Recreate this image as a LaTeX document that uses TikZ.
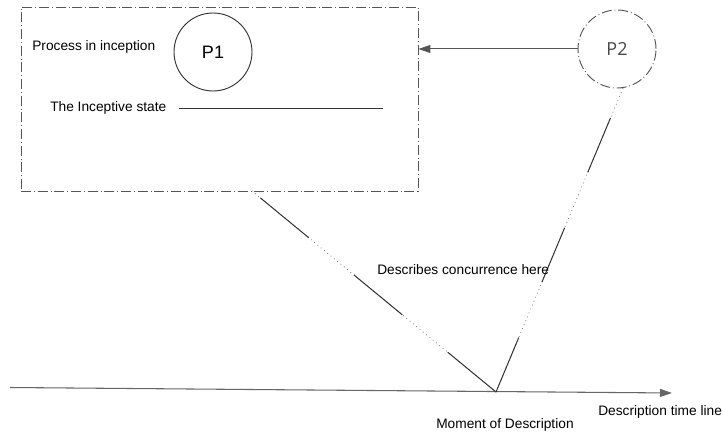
\documentclass[tikz,border=0pt]{standalone}
\usepackage{fontspec}
\setmainfont{Liberation Sans}
\newfontfamily\ptwofont{Open Sans}
\usetikzlibrary{arrows.meta}
\definecolor{frame}{HTML}{555555}
\definecolor{ink}{HTML}{333333}
\begin{document}
\begin{tikzpicture}[x=0.75pt,y=-0.75pt,
  dashdotline/.style={draw=frame,line width=0.7pt,dash pattern=on 7.5pt off 2.2pt on 0.6pt off 2.2pt},
  proc/.style={circle,minimum size=58.5pt,inner sep=0pt,line width=0.7pt},
  lbl/.style={inner sep=0pt,font=\fontsize{10.3pt}{12pt}\selectfont,text=black},
  tip/.style={-{Triangle[length=9pt,width=6pt]}},
  dotpart/.style={draw=frame!80,line width=0.6pt,dash pattern=on 0.6pt off 2.6pt},
  solidpart/.style={draw=ink,line width=0.75pt}]
\useasboundingbox (0,0) rectangle (723,434);

% the inception frame and its contents
\node[dashdotline,rectangle,minimum width=297.75pt,minimum height=138pt,inner sep=0pt] (box) at (219.5,99) {};
\node[proc,draw=ink,font=\fontsize{13.5pt}{16pt}\selectfont] (p1) at (213,52) {P1};
\node[lbl,anchor=base west] (inception) at (32,51) {Process in inception};
\node[lbl,anchor=base west] (inceptive) at (50,112) {The Inceptive state};
\coordinate (statestart) at (179,108);
\coordinate (stateend) at (383,108);
\draw[solidpart,line width=0.6pt] (statestart) -- (stateend);

% the second process
\node[proc,dashdotline,font=\ptwofont\fontsize{13.5pt}{16pt}\selectfont,text=frame!85!black] (p2) at (617,49) {P2};
\draw[solidpart,draw=frame,tip] (p2.west) -- (p2.west -| box.east);

% description time line
\coordinate (tstart) at (10,387.5);
\coordinate (tend) at (672,393);
\coordinate (moment) at (496,392);
\draw[solidpart,draw=frame!90,tip,line width=0.8pt] (tstart) -- (tend);
\node[lbl,anchor=base west] (momentlbl) at (436,428) {Moment of Description};
\node[lbl,anchor=base west] (timelbl) at (598,415) {Description time line};

% sight lines from the moment of description
\coordinate (boxfoot) at (252,191);
\coordinate (p2foot) at (623,88);
\draw[dotpart] (moment) -- (boxfoot);
\draw[solidpart,dash pattern=on 47pt off 44pt] (moment) -- (boxfoot);
\draw[dotpart] (moment) -- (p2foot);
\draw[solidpart,dash pattern=on 44.25pt off 45pt] (moment) -- (p2foot);
\node[lbl,anchor=base west] (concur) at (377,274) {Describes concurrence here};
\end{tikzpicture}
\end{document}
